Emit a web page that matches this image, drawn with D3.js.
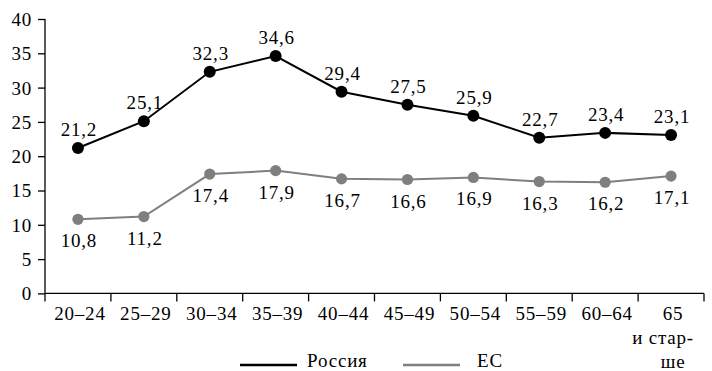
<!DOCTYPE html>
<html>
<head>
<meta charset="utf-8">
<script src="https://cdn.jsdelivr.net/npm/d3@7/dist/d3.min.js"></script>
</head>
<body style="margin:0;background:#fff">
<svg id="chart" width="712" height="371" font-family="Liberation Serif" font-size="19"></svg>
<script>
// Age groups (category axis); the last one wraps onto three lines
const ageGroups = ["20–24", "25–29", "30–34", "35–39", "40–44", "45–49", "50–54", "55–59", "60–64", "65 и старше"];
const ageGroupLines = [["20–24"], ["25–29"], ["30–34"], ["35–39"], ["40–44"], ["45–49"], ["50–54"], ["55–59"], ["60–64"], ["65", "и стар-", "ше"]];

// Series values, %
const russia = [21.2, 25.1, 32.3, 34.6, 29.4, 27.5, 25.9, 22.7, 23.4, 23.1];
const eu     = [10.8, 11.2, 17.4, 17.9, 16.7, 16.6, 16.9, 16.3, 16.2, 17.1];

const seriesNames = ["Россия", "ЕС"];
const yTicks = [0, 5, 10, 15, 20, 25, 30, 35, 40];

const FONT = "Liberation Serif";
const svg = d3.select("#chart");
const plotLeft = 45, plotRight = 704, plotTop = 19, plotBottom = 293.4;

const x = d3.scaleBand().domain(ageGroups).range([plotLeft, plotRight]).padding(0);
const y = d3.scaleLinear().domain([0, 40]).range([plotBottom, plotTop]);
const fmt = v => v.toFixed(1).replace(".", ",");

function styleText(sel) {
  return sel.attr("font-family", FONT).attr("font-size", 19).attr("fill", "#000").attr("letter-spacing", 0.8);
}

// Y axis
const yAxis = svg.append("g")
  .attr("transform", `translate(${plotLeft},0)`)
  .call(d3.axisLeft(y).tickValues(yTicks).tickSize(7).tickPadding(6).tickFormat(d3.format("d")));
yAxis.attr("font-family", FONT).attr("font-size", 19);
yAxis.select(".domain").attr("stroke", "#000").attr("stroke-width", 1.3).attr("d", `M0,${plotTop}V${plotBottom}`);
yAxis.selectAll(".tick line").attr("stroke", "#000").attr("stroke-width", 1.3);
styleText(yAxis.selectAll(".tick text")).attr("dy", "0.34em");

// X axis: baseline, boundary ticks between groups, labels centred in each band
const xAxis = svg.append("g").attr("transform", `translate(0,${plotBottom})`);
xAxis.append("line").attr("x1", plotLeft).attr("x2", plotRight).attr("stroke", "#000").attr("stroke-width", 1.3);
const edges = ageGroups.map(c => x(c)).concat([x.range()[1]]);
xAxis.selectAll("line.edge").data(edges).join("line")
  .attr("class", "edge")
  .attr("x1", d => d).attr("x2", d => d)
  .attr("y1", 0).attr("y2", 8)
  .attr("stroke", "#000").attr("stroke-width", 1.3);

const lineShift = { "и стар-": -10 };
const labelG = xAxis.selectAll("g.lab").data(ageGroups).join("g")
  .attr("class", "lab")
  .attr("transform", d => `translate(${x(d) + x.bandwidth() / 2 + 2},0)`);
labelG.each(function(d, i) {
  styleText(d3.select(this).selectAll("text").data(ageGroupLines[i]).join("text"))
    .attr("text-anchor", "middle")
    .attr("x", t => lineShift[t] || 0)
    .attr("y", (t, j) => 27 + j * 24)
    .text(t => t);
});

// Lines, markers and value labels
const series = [
  { name: seriesNames[0], values: russia, color: "#000", r: 6, labelDy: -12 },
  { name: seriesNames[1], values: eu, color: "#7f7f7f", r: 5.6, labelDy: 28 }
];
const line = d3.line()
  .x((d, i) => x(ageGroups[i]) + x.bandwidth() / 2)
  .y(d => y(d));

series.forEach(s => {
  const g = svg.append("g");
  g.append("path").datum(s.values)
    .attr("d", line).attr("fill", "none")
    .attr("stroke", s.color).attr("stroke-width", 2);
  g.selectAll("circle").data(s.values).join("circle")
    .attr("cx", (d, i) => x(ageGroups[i]) + x.bandwidth() / 2)
    .attr("cy", d => y(d))
    .attr("r", s.r)
    .attr("fill", s.color);
  styleText(g.selectAll("text").data(s.values).join("text"))
    .attr("text-anchor", "middle")
    .attr("x", (d, i) => x(ageGroups[i]) + x.bandwidth() / 2 + 1)
    .attr("y", d => y(d) + s.labelDy)
    .text(fmt);
});

// Legend
const legend = svg.append("g");
const legendItems = [
  { name: seriesNames[0], color: "#000", x1: 240, x2: 297, tx: 307 },
  { name: seriesNames[1], color: "#7f7f7f", x1: 403, x2: 460, tx: 477 }
];
legendItems.forEach(it => {
  legend.append("line").attr("x1", it.x1).attr("x2", it.x2).attr("y1", 365).attr("y2", 365)
    .attr("stroke", it.color).attr("stroke-width", 2.5);
  styleText(legend.append("text")).attr("x", it.tx).attr("y", 367).text(it.name);
});
</script>
</body>
</html>
